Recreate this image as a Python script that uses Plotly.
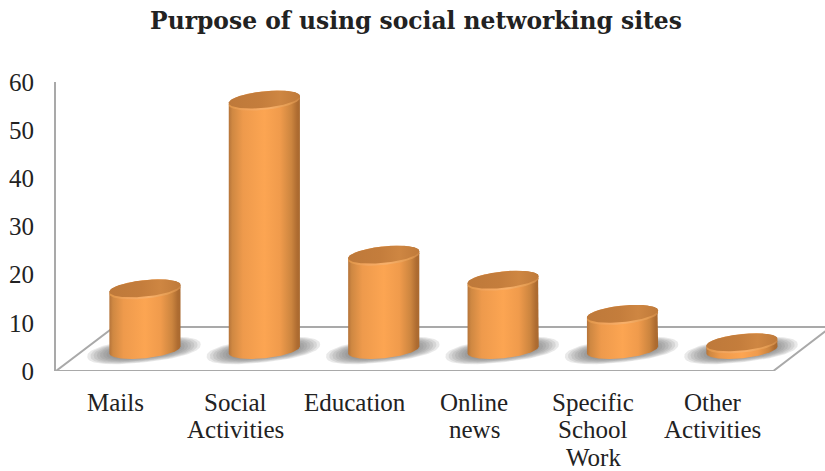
import numpy as np
import plotly.graph_objects as go

# Chart content
TITLE = "Purpose of using social networking sites"
CATEGORY_LINES = [
    ["Mails"],
    ["Social", "Activities"],
    ["Education"],
    ["Online", "news"],
    ["Specific", "School", "Work"],
    ["Other", "Activities"],
]
VALUES = [12.8, 52, 19.8, 14.6, 7.5, 1.6]
Y_TICKS = [0, 10, 20, 30, 40, 50, 60]

# Pseudo-3D projection, in axis units
DEPTH_X = 0.234      # cylinders sit this far right of their category tick
DEPTH_Y = 4.36       # and this far up the axis, on the middle of the floor
RADIUS_X = 0.298
RADIUS_Y = 1.72
SHEAR_Y = 0.72       # ellipses lean up towards the right
RIM = 0.42           # drop of the bevel along the front of each lid
X_RANGE = [-0.5109, 5.9296]
Y_RANGE = [0, 60]
FLOOR_BACK = 9.13
FLOOR_FRONT_END = 5.497
FLOOR_BACK_START = -0.025
FLOOR_BACK_END = 5.98

FRAME = "#A9A9A9"
TEXT = "#222222"
FONT = "Liberation Serif"

BODY_SCALE = [
    [0.00, "#B5743A"], [0.05, "#CF8842"], [0.20, "#EE9A4C"], [0.50, "#FCA552"],
    [0.72, "#F09B4C"], [0.88, "#CC853F"], [0.96, "#AE6C31"], [1.00, "#A9692F"],
]
RIM_SCALE = [
    [0.00, "#DE9548"], [0.25, "#F2A55E"], [0.55, "#F8B06A"], [0.85, "#E49C52"], [1.00, "#C98444"],
]
LID_SCALE = [
    [0.00, "#BE793A"], [0.45, "#C47D3C"], [0.72, "#CE8642"], [1.00, "#BF7A3A"],
]


def ellipse(cx, cy, rx, ry, shear, start=0.0, stop=2 * np.pi, n=120, power=1.0):
    t = np.linspace(start, stop, n)
    c, s = np.cos(t), np.sin(t)
    c = np.sign(c) * np.abs(c) ** power
    s = np.sign(s) * np.abs(s) ** power
    return cx + rx * c, cy + ry * s + shear * c


fig = go.Figure()

# Floor and its frame
fig.add_trace(go.Scatter(
    x=[X_RANGE[0], FLOOR_FRONT_END, FLOOR_BACK_END, FLOOR_BACK_START, X_RANGE[0]],
    y=[0, 0, FLOOR_BACK, FLOOR_BACK, 0],
    mode="lines", line=dict(color=FRAME, width=2), fill="toself",
    fillcolor="white", hoverinfo="skip", showlegend=False,
))

# Soft floor shadows, built up from nested translucent ellipses
for i in range(len(VALUES)):
    cx = i + DEPTH_X
    for k in np.linspace(1.0, 0.55, 9):
        sx, sy = ellipse(cx - 0.008, DEPTH_Y - 0.1, 0.475 * k, 2.45 * k, 1.25 * k, power=0.85)
        fig.add_trace(go.Scatter(
            x=sx, y=sy, mode="lines", line=dict(width=0), fill="toself",
            fillcolor="rgba(120,120,120,0.16)", hoverinfo="skip", showlegend=False,
        ))

# Cylinders: shaded body, then the bevelled lid in two layers
for i, value in enumerate(VALUES):
    cx = i + DEPTH_X
    top = DEPTH_Y + value
    bx, by = ellipse(cx, DEPTH_Y, RADIUS_X, RADIUS_Y, SHEAR_Y, np.pi, 2 * np.pi)
    tx, ty = ellipse(cx, top, RADIUS_X, RADIUS_Y, SHEAR_Y, 0, np.pi)
    fig.add_trace(go.Scatter(
        x=np.r_[bx, tx], y=np.r_[by, ty], mode="lines", line=dict(width=0),
        fill="toself", fillgradient=dict(type="horizontal", colorscale=BODY_SCALE),
        hoverinfo="skip", showlegend=False,
    ))
    rx, ry = ellipse(cx, top - RIM, RADIUS_X, RADIUS_Y, SHEAR_Y)
    fig.add_trace(go.Scatter(
        x=rx, y=ry, mode="lines", line=dict(width=0),
        fill="toself", fillgradient=dict(type="horizontal", colorscale=RIM_SCALE),
        hoverinfo="skip", showlegend=False,
    ))
    lx, ly = ellipse(cx, top, RADIUS_X, RADIUS_Y, SHEAR_Y)
    fig.add_trace(go.Scatter(
        x=lx, y=ly, mode="lines", line=dict(width=0),
        fill="toself", fillgradient=dict(type="horizontal", colorscale=LID_SCALE),
        hoverinfo="skip", showlegend=False,
    ))

# Category labels, set line by line for tight leading
annotations = []
for i, lines in enumerate(CATEGORY_LINES):
    for j, line in enumerate(lines):
        annotations.append(dict(
            x=i - 0.01, y=0, xref="x", yref="y", text=line, showarrow=False,
            xanchor="center", yanchor="middle", yshift=-(31 + 27.6 * j),
            font=dict(family=FONT, size=25, color=TEXT),
        ))

fig.update_layout(
    width=825, height=471, autosize=False,
    margin=dict(l=56, r=0, t=82, b=100, pad=0),
    paper_bgcolor="white", plot_bgcolor="white",
    hovermode=False, showlegend=False,
    title=dict(
        text=TITLE, x=416 / 825, xanchor="center", y=1 - 21 / 471, yanchor="middle",
        font=dict(family="DejaVu Serif", size=23.4, color=TEXT, weight="bold"),
    ),
    xaxis=dict(range=X_RANGE, showgrid=False, zeroline=False, showticklabels=False,
               ticks="", showline=False, fixedrange=True),
    yaxis=dict(range=Y_RANGE, tickvals=Y_TICKS, showgrid=False, zeroline=False,
               showline=True, linecolor=FRAME, linewidth=2, ticks="",
               ticklabelstandoff=15, fixedrange=True,
               tickfont=dict(family=FONT, size=25, color=TEXT)),
    annotations=annotations,
)

fig.write_html("out.html", config=dict(displayModeBar=False))
